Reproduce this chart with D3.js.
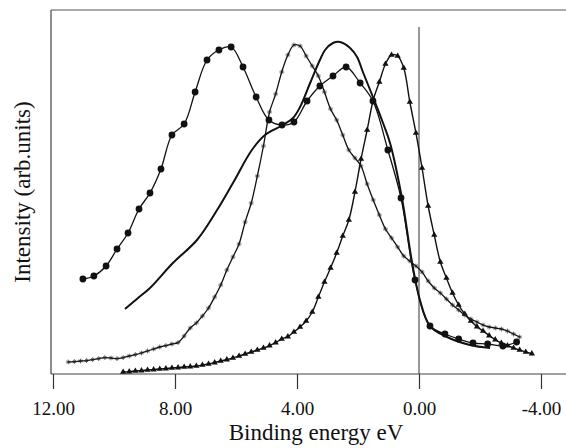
<!DOCTYPE html>
<html>
<head>
<meta charset="utf-8">
<script src="https://cdn.jsdelivr.net/npm/d3@7"></script>
<style>
  body { margin: 0; background: #fff; }
  svg { display: block; }
</style>
</head>
<body>
<svg id="chart" width="566" height="448"></svg>
<script>
// binding energy ticks (eV)
const xTicks = [12, 8, 4, 0, -4];

// curve with round markers
const dotE = [11.02, 10.66, 10.26, 9.90, 9.54, 9.18, 8.82, 8.46, 8.10, 7.70, 7.34, 6.95, 6.56, 6.16,
  5.77, 5.34, 4.92, 4.49, 4.10, 3.67, 3.25, 2.82, 2.39, 1.93, 1.51, 1.02, 0.59, 0.13, -0.36, -0.85,
  -1.30, -1.77, -2.25, -2.75, -3.20];
const dotI = [47.5, 49, 54, 62.5, 70.5, 82.5, 90.5, 102.5, 119.5, 125, 141, 157, 162, 163.5,
  153.5, 138.5, 127, 124.5, 126, 136.5, 144, 149, 153.5, 145.5, 136.5, 112, 88, 47, 24, 20,
  17.5, 15.5, 15, 14, 16];

// plain thick curve, no markers
const solidE = [9.64, 9.21, 8.82, 8.07, 7.28, 6.62, 6.10, 5.48, 5.05, 4.46, 4.13, 3.90, 3.57, 3.25,
  3.08, 2.82, 2.59, 2.26, 2.03, 1.84, 1.51, 1.18, 0.95, 0.56, 0.23, -0.03, -0.36, -0.85, -1.67, -2.33];
const solidI = [32.5, 38, 43, 55.5, 67, 82, 95.5, 112, 119.5, 124.5, 128, 133.5, 145.5, 157,
  162, 165.5, 166, 163, 158.5, 151, 138.5, 125.5, 115.5, 88, 56, 37, 24, 19, 14.5, 13];

// curve with star markers
const starE = [11.5, 11.3, 11.1, 10.9, 10.7, 10.5, 10.3, 10.1, 9.9, 9.7, 9.5, 9.3, 9.1, 8.9, 8.7,
  8.5, 8.3, 8.1, 7.9, 7.7, 7.5, 7.3, 7.1, 6.9, 6.7, 6.5, 6.3, 6.1, 5.9, 5.7, 5.5, 5.3, 5.1, 4.9,
  4.7, 4.5, 4.3, 4.1, 3.9, 3.7, 3.5, 3.3, 3.1, 2.9, 2.7, 2.5, 2.3, 2.1, 1.9, 1.7, 1.5, 1.3, 1.1,
  0.9, 0.7, 0.5, 0.3, 0.1, -0.1, -0.3, -0.5, -0.7, -0.9, -1.1, -1.3, -1.5, -1.7, -1.9, -2.1,
  -2.3, -2.5, -2.7, -2.9, -3.1, -3.3];
const starI = [6, 6.2, 6.5, 6.7, 7.2, 7.7, 8.2, 8, 7.7, 8.2, 9, 9.7, 10.5, 11.5, 12.5,
  13.5, 14.2, 15, 15.7, 19, 23, 25.5, 29, 33, 38.5, 44.5, 52, 58.5, 65, 76, 85.5, 99, 114, 131,
  140, 151, 159.5, 164.5, 164, 159, 154, 149, 141, 132.5, 127, 119.5, 112, 108, 104, 95, 87, 79.5, 72.5,
  68, 63.5, 59, 56.5, 54, 51, 46.5, 43, 40.5, 37.5, 34.5, 32, 29.5, 27.5, 26, 24.5,
  23.5, 23, 22.5, 21.5, 20, 18.5];

// curve with triangle markers
const triE = [9.7, 9.5, 9.3, 9.1, 8.9, 8.7, 8.5, 8.3, 8.1, 7.9, 7.7, 7.5, 7.3, 7.1, 6.9, 6.7,
  6.5, 6.3, 6.1, 5.9, 5.7, 5.5, 5.3, 5.1, 4.9, 4.7, 4.5, 4.3, 4.1, 3.9, 3.7, 3.5, 3.3, 3.1,
  2.9, 2.7, 2.5, 2.3, 2.1, 1.9, 1.7, 1.5, 1.3, 1.1, 0.9, 0.7, 0.5, 0.3, 0.1, -0.1, -0.3, -0.5,
  -0.7, -0.9, -1.1, -1.3, -1.5, -1.7, -1.9, -2.1, -2.3, -2.5, -2.7, -2.9, -3.1, -3.3, -3.5, -3.7];
const triI = [1, 1.2, 1.5, 1.7, 2, 2.2, 2.5, 2.7, 3, 3.2, 3.5, 3.7, 4, 4.5, 5, 5.7,
  6.5, 7.2, 8, 9, 10, 11, 12, 13, 14.2, 15.7, 17.5, 18.7, 21, 23.5, 26.5, 31, 38.5, 46,
  53, 60.5, 69, 77, 91, 107.5, 122, 137, 146, 155, 159.5, 159, 153, 136, 120.5, 103, 84, 69.5,
  56, 48, 40.5, 34.5, 30, 26.5, 23.7, 21.5, 19.2, 17.2, 15.5, 14.2, 13, 12, 11, 10.2];

const zip = (es, is) => es.map((e, i) => ({ e, v: is[i] }));

const svg = d3.select("#chart");
const frameL = 51, frameT = 10, frameB = 374, frameR = 566;
const serif = "'Liberation Serif', 'Times New Roman', serif";

const x = d3.scaleLinear().domain([12, -4]).range([53, 541]);
const y = d3.scaleLinear().domain([0, 182]).range([frameB, frameT]);

const line = d3.line()
  .x(d => x(d.e))
  .y(d => y(d.v))
  .curve(d3.curveCatmullRom.alpha(0.5));

// frame: left, top and bottom lines
svg.append("line").attr("x1", frameL).attr("x2", frameL).attr("y1", frameT).attr("y2", frameB)
  .attr("stroke", "#444").attr("stroke-width", 1.2);
svg.append("line").attr("x1", frameL).attr("x2", frameR).attr("y1", frameT).attr("y2", frameT)
  .attr("stroke", "#555").attr("stroke-width", 1.2);

const xAxis = svg.append("g")
  .attr("transform", `translate(0,${frameB})`)
  .call(d3.axisBottom(x).tickValues(xTicks).tickSize(15).tickSizeOuter(0).tickPadding(13)
    .tickFormat(d => d3.format(".2f")(d).replace("\u2212", "-")));
xAxis.select(".domain").remove();
xAxis.selectAll(".tick line").attr("stroke", "#333").attr("stroke-width", 1.2);
xAxis.selectAll(".tick text")
  .attr("fill", "#111")
  .style("font-family", serif)
  .style("font-size", "19px");
svg.append("line").attr("x1", frameL).attr("x2", frameR).attr("y1", frameB).attr("y2", frameB)
  .attr("stroke", "#444").attr("stroke-width", 1.2);

// Fermi level marker
svg.append("line").attr("x1", x(0)).attr("x2", x(0)).attr("y1", 27).attr("y2", frameB)
  .attr("stroke", "#333").attr("stroke-width", 1);

const curves = svg.append("g").attr("fill", "none").attr("stroke", "#111");

curves.append("path").datum(zip(triE, triI)).attr("d", line).attr("stroke-width", 1.4);
curves.append("path").datum(zip(starE, starI)).attr("d", line).attr("stroke-width", 1.3);
curves.append("path").datum(zip(dotE, dotI)).attr("d", line).attr("stroke-width", 1.3);
curves.append("path").datum(zip(solidE, solidI)).attr("d", line).attr("stroke-width", 2);

// markers
svg.append("g").selectAll("path")
  .data(zip(triE, triI))
  .join("path")
  .attr("transform", d => `translate(${x(d.e)},${y(d.v)})`)
  .attr("d", d3.symbol(d3.symbolTriangle).size(17))
  .attr("fill", "#111");

svg.append("g").selectAll("path")
  .data(zip(starE, starI))
  .join("path")
  .attr("transform", d => `translate(${x(d.e)},${y(d.v)})`)
  .attr("d", "M-2.4,0H2.4M0,-2.4V2.4M-1.5,-1.5L1.5,1.5M-1.5,1.5L1.5,-1.5")
  .attr("stroke", "#222")
  .attr("stroke-width", 0.7)
  .attr("fill", "none");

svg.append("g").selectAll("circle")
  .data(zip(dotE, dotI))
  .join("circle")
  .attr("cx", d => x(d.e))
  .attr("cy", d => y(d.v))
  .attr("r", 3.4)
  .attr("fill", "#111");

// axis titles
svg.append("text")
  .attr("x", 316).attr("y", 440)
  .attr("text-anchor", "middle")
  .attr("fill", "#111")
  .style("font-family", serif)
  .style("font-size", "23px")
  .text("Binding energy eV");

svg.append("text")
  .attr("transform", "translate(30,192) rotate(-90)")
  .attr("text-anchor", "middle")
  .attr("fill", "#111")
  .style("font-family", serif)
  .style("font-size", "23px")
  .text("Intensity (arb.units)");
</script>
</body>
</html>
